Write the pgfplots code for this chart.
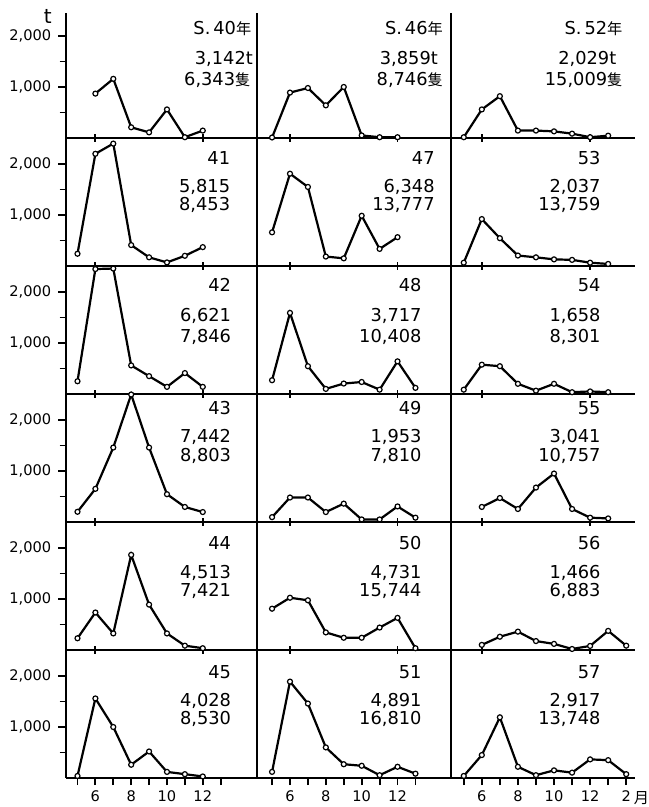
\documentclass[border=0pt]{standalone}
\usepackage{pgfplots}
\pgfplotsset{compat=1.18}
\usepackage{fontspec}
\setmainfont{DejaVu Sans}
\newfontfamily\cjk{Noto Sans CJK JP}
\newcommand\lab{\fontsize{8.9}{10}\selectfont}
\newcommand\ticklab{\fontsize{7.3}{8.5}\selectfont}
\newcommand\jj[1]{{\cjk\fontsize{7.6}{9}\selectfont #1}}
\newcommand\txt[3]{\node[anchor=base east, inner sep=0pt, font=\lab] at (axis cs:#1,#2) {#3};}
\pgfplotsset{
  ser/.style={black, line width=1.1pt, mark=*, mark size=1.25pt,
      mark options={fill=white, draw=black, line width=0.6pt}},
  panel/.style={scale only axis, axis lines=left, axis line style={-, line width=1pt},
    ymin=0, ymax=2510, height=64pt, clip=false, ytick=\empty,
    xtick={6,12}, xticklabels={}, xtick align=center, major tick length=3.6pt,
    tick style={line width=0.9pt, black}},
  colL/.style={xmin=4.33, xmax=15.03, width=95.75pt,
    ytick={1000,2000}, yticklabels={{1,000},{2,000}}, minor ytick={500,1500},
    ytick align=outside, minor tick length=3pt, yticklabel style={font=\ticklab}},
  colM/.style={xmin=4.16, xmax=15.0, width=97.15pt},
  colR/.style={xmin=4.31, xmax=14.47, width=91.7pt},
  bottomrow/.style={xtick={5,...,13}, xticklabels={,6,,8,,10,,12,}, xtick align=outside,
    xticklabel style={font=\ticklab, yshift=0.6pt}},
}
\begin{document}
\begin{tikzpicture}
\useasboundingbox (-32.75pt,-14.5pt) rectangle (291.25pt,389pt);
% ---------------- Row 1
\begin{axis}[panel, colL, at={(0pt,320pt)}, anchor=south west, height=62.35pt, ymax=2445]
\addplot[ser] coordinates {(6,870)(7,1160)(8,210)(9,110)(10,560)(11,15)(12,145)};
\txt{14.73}{2036}{S.\,40\jj{年}}
\txt{14.82}{1448}{3,142t}
\txt{14.68}{1024}{6,343\jj{隻}}
\node[font=\fontsize{10}{11}\selectfont, inner sep=0pt, xshift=-8.9pt, yshift=-1.6pt] at (rel axis cs:0,1) {t};
\end{axis}
\begin{axis}[panel, colM, at={(95.75pt,320pt)}, anchor=south west, height=62.35pt, ymax=2445]
\addplot[ser] coordinates {(5,10)(6,890)(7,980)(8,640)(9,1000)(10,50)(11,15)(12,15)};
\txt{14.55}{2036}{S.\,46\jj{年}}
\txt{14.27}{1448}{3,859t}
\txt{14.55}{1024}{8,746\jj{隻}}
\end{axis}
\begin{axis}[panel, colR, at={(192.9pt,320pt)}, anchor=south west, height=62.35pt, ymax=2445]
\addplot[ser] coordinates {(5,15)(6,560)(7,820)(8,145)(9,145)(10,130)(11,85)(12,15)(13,45)};
\txt{13.81}{2036}{S.\,52\jj{年}}
\txt{13.47}{1448}{2,029t}
\txt{13.81}{1024}{15,009\jj{隻}}
\end{axis}
% ---------------- Row 2
\begin{axis}[panel, colL, at={(0pt,256pt)}, anchor=south west]
\addplot[ser] coordinates {(5,240)(6,2200)(7,2400)(8,410)(9,170)(10,70)(11,200)(12,370)};
\txt{13.55}{1998}{41}
\txt{13.55}{1442}{5,815}
\txt{13.55}{1083}{8,453}
\end{axis}
\begin{axis}[panel, colM, at={(95.75pt,256pt)}, anchor=south west]
\addplot[ser] coordinates {(5,660)(6,1810)(7,1550)(8,185)(9,150)(10,985)(11,335)(12,565)};
\txt{14.09}{1998}{47}
\txt{14.09}{1442}{6,348}
\txt{14.09}{1083}{13,777}
\end{axis}
\begin{axis}[panel, colR, at={(192.9pt,256pt)}, anchor=south west]
\addplot[ser] coordinates {(5,65)(6,920)(7,545)(8,205)(9,170)(10,130)(11,120)(12,65)(13,40)};
\txt{12.60}{1998}{53}
\txt{12.60}{1442}{2,037}
\txt{12.60}{1083}{13,759}
\end{axis}
% ---------------- Row 3
\begin{axis}[panel, colL, at={(0pt,192pt)}, anchor=south west]
\addplot[ser] coordinates {(5,250)(6,2450)(7,2460)(8,560)(9,350)(10,140)(11,410)(12,140)};
\txt{13.60}{2010}{42}
\txt{13.60}{1423}{6,621}
\txt{13.60}{1010}{7,846}
\end{axis}
\begin{axis}[panel, colM, at={(95.75pt,192pt)}, anchor=south west]
\addplot[ser] coordinates {(5,270)(6,1590)(7,545)(8,100)(9,205)(10,235)(11,85)(12,640)(13,120)};
\txt{13.36}{2010}{48}
\txt{13.36}{1423}{3,717}
\txt{13.36}{1010}{10,408}
\end{axis}
\begin{axis}[panel, colR, at={(192.9pt,192pt)}, anchor=south west]
\addplot[ser] coordinates {(5,85)(6,575)(7,545)(8,200)(9,65)(10,200)(11,35)(12,50)(13,35)};
\txt{12.60}{2010}{54}
\txt{12.60}{1423}{1,658}
\txt{12.60}{1010}{8,301}
\end{axis}
% ---------------- Row 4
\begin{axis}[panel, colL, at={(0pt,128pt)}, anchor=south west]
\addplot[ser] coordinates {(5,200)(6,650)(7,1460)(8,2500)(9,1460)(10,545)(11,295)(12,195)};
\txt{13.60}{2110}{43}
\txt{13.60}{1555}{7,442}
\txt{13.60}{1180}{8,803}
\end{axis}
\begin{axis}[panel, colM, at={(95.75pt,128pt)}, anchor=south west]
\addplot[ser] coordinates {(5,95)(6,480)(7,480)(8,195)(9,360)(10,50)(11,50)(12,305)(13,85)};
\txt{13.36}{2110}{49}
\txt{13.36}{1555}{1,953}
\txt{13.36}{1180}{7,810}
\end{axis}
\begin{axis}[panel, colR, at={(192.9pt,128pt)}, anchor=south west]
\addplot[ser] coordinates {(6,295)(7,470)(8,255)(9,675)(10,950)(11,255)(12,85)(13,70)};
\txt{12.60}{2110}{55}
\txt{12.60}{1555}{3,041}
\txt{12.60}{1180}{10,757}
\end{axis}
% ---------------- Row 5
\begin{axis}[panel, colL, at={(0pt,64pt)}, anchor=south west]
\addplot[ser] coordinates {(5,230)(6,735)(7,325)(8,1865)(9,890)(10,325)(11,85)(12,35)};
\txt{13.60}{1965}{44}
\txt{13.60}{1408}{4,513}
\txt{13.60}{1049}{7,421}
\end{axis}
\begin{axis}[panel, colM, at={(95.75pt,64pt)}, anchor=south west]
\addplot[ser] coordinates {(5,810)(6,1025)(7,975)(8,345)(9,240)(10,240)(11,440)(12,630)(13,35)};
\txt{13.36}{1965}{50}
\txt{13.36}{1408}{4,731}
\txt{13.36}{1049}{15,744}
\end{axis}
\begin{axis}[panel, colR, at={(192.9pt,64pt)}, anchor=south west]
\addplot[ser] coordinates {(6,100)(7,260)(8,360)(9,175)(10,120)(11,20)(12,80)(13,375)(14,85)};
\txt{12.60}{1965}{56}
\txt{12.60}{1408}{1,466}
\txt{12.60}{1049}{6,883}
\end{axis}
% ---------------- Row 6
\begin{axis}[panel, colL, bottomrow, at={(0pt,0pt)}, anchor=south west]
\addplot[ser] coordinates {(5,40)(6,1560)(7,1000)(8,260)(9,520)(10,120)(11,75)(12,30)};
\txt{13.60}{1957}{45}
\txt{13.60}{1402}{4,028}
\txt{13.60}{1043}{8,530}
\end{axis}
\begin{axis}[panel, colM, bottomrow, at={(95.75pt,0pt)}, anchor=south west]
\addplot[ser] coordinates {(5,120)(6,1890)(7,1460)(8,600)(9,270)(10,240)(11,55)(12,220)(13,85)};
\txt{13.36}{1957}{51}
\txt{13.36}{1402}{4,891}
\txt{13.36}{1043}{16,810}
\end{axis}
\begin{axis}[panel, colR, bottomrow, at={(192.9pt,0pt)}, anchor=south west,
  xtick={5,...,14}, xticklabels={,6,,8,,10,,12,,2}]
\addplot[ser] coordinates {(5,40)(6,450)(7,1190)(8,220)(9,55)(10,150)(11,105)(12,365)(13,350)(14,75)};
\txt{12.60}{1957}{57}
\txt{12.60}{1402}{2,917}
\txt{12.60}{1043}{13,748}
\node[inner sep=0pt, xshift=7.6pt, yshift=-10.2pt] at (axis cs:14,0) {\jj{月}};
\end{axis}
\end{tikzpicture}
\end{document}
